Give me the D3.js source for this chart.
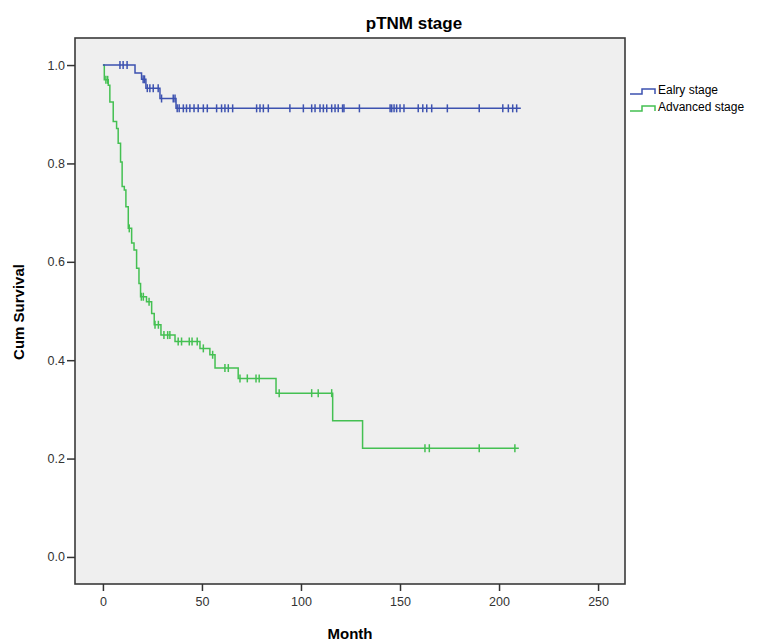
<!DOCTYPE html>
<html>
<head>
<meta charset="utf-8">
<script src="https://cdn.jsdelivr.net/npm/d3@7"></script>
<style>
  body { margin: 0; background: #fff; }
  svg { display: block; font-family: "Liberation Sans", Arial, sans-serif; }
</style>
</head>
<body>
<div id="container"></div>
<script>
  // Early stage (blue): step times / survival after each drop, censored times
  const earlyTimes = [16.2, 19.5, 21.7, 28.8, 36.9];
  const earlySurv = [0.984, 0.971, 0.953, 0.932, 0.912];
  const earlyEnd = 211;
  const earlyCensored = [8.6, 10.2, 12.2, 20.3, 21.0, 22.4, 23.7, 25.4, 27.9, 29.6, 35.5, 36.4,
    37.5, 38.5, 40.6, 42.2, 43.9, 46.0, 48.1, 50.7, 52.7, 57.4, 59.9, 61.6, 63.3, 65.5,
    77.6, 79.3, 81.0, 83.5, 94.4, 101.2, 105.4, 107.1, 109.6, 111.3, 113.0, 115.5, 117.2,
    118.8, 121.0, 121.7, 129.5, 145.0, 145.8, 147.0, 148.3, 150.0, 152.0, 159.2, 161.5,
    163.5, 166.0, 173.9, 190.0, 201.9, 204.7, 206.9, 208.9];

  // Advanced stage (green)
  const advTimes = [0.7, 2.7, 3.5, 5.2, 6.9, 7.7, 8.9, 9.7, 10.8, 11.6, 12.8, 14.5, 15.7, 17.0,
    18.2, 19.0, 22.0, 24.6, 25.9, 29.3, 36.4, 49.0, 54.0, 56.6, 68.3, 87.4, 116.0, 131.1];
  const advSurv = [0.970, 0.959, 0.925, 0.885, 0.871, 0.841, 0.803, 0.753, 0.746, 0.712, 0.668,
    0.638, 0.624, 0.587, 0.556, 0.529, 0.519, 0.495, 0.472, 0.451, 0.438, 0.424, 0.411,
    0.384, 0.363, 0.333, 0.277, 0.221];
  const advEnd = 210;
  const advCensored = [1.5, 2.4, 13.3, 19.4, 20.4, 23.3, 26.3, 28.0, 30.8, 32.7, 33.8, 38.0,
    39.7, 43.6, 45.0, 47.6, 50.7, 55.4, 61.6, 63.3, 69.2, 72.9, 77.3, 78.9, 89.0, 105.4,
    108.7, 115.5, 162.6, 164.8, 190.0, 208.0];

  const xTicks = [0, 50, 100, 150, 200, 250];
  const yTicks = [0, 0.2, 0.4, 0.6, 0.8, 1.0];
  const seriesNames = ["Ealry stage", "Advanced stage"];

  const width = 766, height = 643;
  const plotL = 75, plotR = 625, plotT = 38, plotB = 584;

  const x = d3.scaleLinear().domain([-14.1, 263.6]).range([plotL, plotR]);
  const y = d3.scaleLinear().domain([-0.055, 1.055]).range([plotB, plotT]);

  const svg = d3.select("#container").append("svg")
    .attr("width", width).attr("height", height);

  svg.append("rect")
    .attr("x", plotL).attr("y", plotT)
    .attr("width", plotR - plotL).attr("height", plotB - plotT)
    .attr("fill", "#efefef");

  const survAt = (times, surv, t) => {
    let s = 1;
    times.forEach((tt, i) => { if (tt <= t) s = surv[i]; });
    return s;
  };

  const line = d3.line()
    .x(d => x(d[0])).y(d => y(d[1]))
    .curve(d3.curveStepAfter);

  const drawSeries = (times, surv, end, censored, color) => {
    const pts = [[0, 1]].concat(times.map((t, i) => [t, surv[i]]));
    pts.push([end, surv[surv.length - 1]]);
    const g = svg.append("g");
    g.append("path")
      .attr("d", line(pts))
      .attr("fill", "none")
      .attr("stroke", color)
      .attr("stroke-width", 1.5);
    g.selectAll("line")
      .data(censored)
      .join("line")
      .attr("x1", d => x(d)).attr("x2", d => x(d))
      .attr("y1", d => y(survAt(times, surv, d)) - 4)
      .attr("y2", d => y(survAt(times, surv, d)) + 4)
      .attr("stroke", color)
      .attr("stroke-width", 1.5);
  };

  const green = "#44c052", blue = "#3d52b0";
  drawSeries(advTimes, advSurv, advEnd, advCensored, green);
  drawSeries(earlyTimes, earlySurv, earlyEnd, earlyCensored, blue);

  // frame
  svg.append("rect")
    .attr("x", plotL).attr("y", plotT)
    .attr("width", plotR - plotL).attr("height", plotB - plotT)
    .attr("fill", "none").attr("stroke", "#3a3a3a").attr("stroke-width", 1.6);

  // axes
  const yAxis = svg.append("g")
    .attr("transform", `translate(${plotL},0)`)
    .call(d3.axisLeft(y).tickValues(yTicks).tickFormat(d3.format(".1f")).tickSize(8).tickPadding(2));
  const xAxis = svg.append("g")
    .attr("transform", `translate(0,${plotB})`)
    .call(d3.axisBottom(x).tickValues(xTicks).tickSize(7).tickPadding(6));
  [yAxis, xAxis].forEach(a => {
    a.select(".domain").remove();
    a.selectAll(".tick line").attr("stroke", "#333").attr("stroke-width", 1.5);
    a.selectAll(".tick text").attr("fill", "#333").style("font-size", "12.5px")
      .style("font-family", "'Liberation Sans', Arial, sans-serif");
  });

  // titles
  svg.append("text")
    .attr("x", 414).attr("y", 29)
    .attr("text-anchor", "middle")
    .style("font-size", "17px").style("font-weight", "bold")
    .text("pTNM stage");

  svg.append("text")
    .attr("x", 350).attr("y", 639)
    .attr("text-anchor", "middle")
    .style("font-size", "15px").style("font-weight", "bold")
    .text("Month");

  svg.append("text")
    .attr("transform", "translate(24,312) rotate(-90)")
    .attr("text-anchor", "middle")
    .style("font-size", "15px").style("font-weight", "bold")
    .text("Cum Survival");

  // legend
  const legend = svg.append("g");
  [blue, green].forEach((c, i) => {
    const ly = 90 + i * 17;
    legend.append("path")
      .attr("d", `M630,${ly + 4}H642V${ly - 1}H655V${ly + 4}`)
      .attr("fill", "none").attr("stroke", c).attr("stroke-width", 1.5);
    legend.append("text")
      .attr("x", 658).attr("y", ly + 4)
      .style("font-size", "12px")
      .text(seriesNames[i]);
  });
</script>
</body>
</html>
